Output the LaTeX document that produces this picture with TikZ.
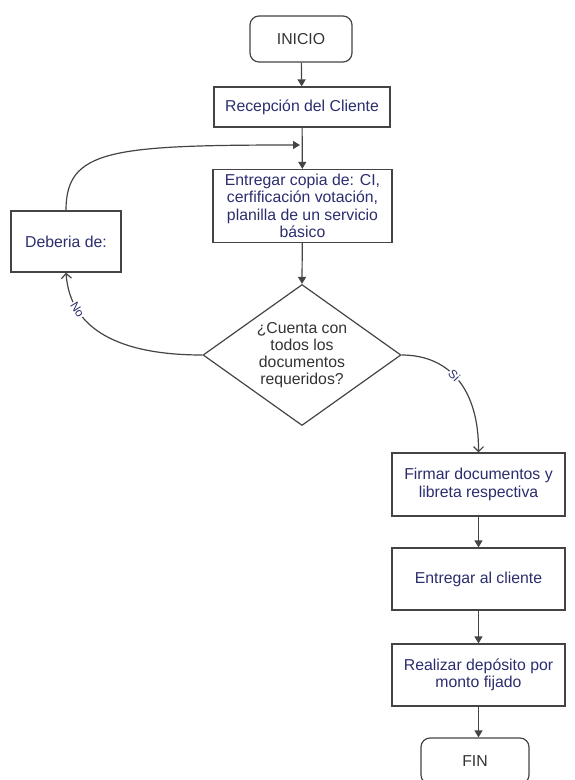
\documentclass[tikz,border=0pt]{standalone}
\usepackage{fontspec}
\setmainfont{Liberation Sans}
\usetikzlibrary{arrows.meta,shapes.geometric}
\definecolor{navy}{HTML}{2B2D6E}
\definecolor{ln}{HTML}{444444}
\definecolor{tx}{HTML}{333333}
\begin{document}
\begin{tikzpicture}[x=1pt,y=-1pt,
  every node/.style={font=\fontsize{15.8}{17.5}\selectfont},
  proc/.style={draw=ln, line width=1.2pt, rectangle, minimum width=#1, align=center, text=navy, inner sep=0pt},
  term/.style={draw=ln, line width=1.2pt, rounded corners=9pt, align=center, text=tx, minimum width=#1, minimum height=46pt},
  arr/.style={draw=ln, line width=1.2pt, -{Triangle[length=7pt,width=8pt]}},
  barb/.style={draw=ln, line width=1.2pt, -{Straight Barb[length=5pt,width=10pt]}},
  lbl/.style={font=\fontsize{12}{13}\selectfont, text=navy, fill=white, inner sep=1pt, sloped}
]
\useasboundingbox (0,0) rectangle (574,780);
\node[term=102pt] (inicio) at (301,39) {INICIO};
\node[proc=176pt, minimum height=40pt] (recep) at (302,107) {Recepción del Cliente};
\node[proc=179pt, minimum height=73pt] (entregar) at (302.5,206) {Entregar copia de: CI,\\cerfificación votación,\\planilla de un servicio\\básico};
\node[proc=110pt, minimum height=61pt] (deberia) at (66,241.5) {Deberia de:};
\node[draw=ln, line width=1.2pt, diamond, minimum width=198pt, minimum height=141pt, inner sep=0pt,
  label={[align=center, text=tx, font=\fontsize{15.8}{16.8}\selectfont]center:¿Cuenta con\\todos los\\documentos\\requeridos?}] (dec) at (302,355) {};
\node[proc=173pt, minimum height=63pt] (firmar) at (478.5,484.5) {Firmar documentos y\\libreta respectiva};
\node[proc=173pt, minimum height=62pt] (cliente) at (478.5,579) {Entregar al cliente};
\node[proc=173pt, minimum height=62pt] (realizar) at (478.5,675) {Realizar depósito por\\monto fijado};
\node[term=108pt] (fin) at (475,761) {FIN};
\coordinate (loopend) at (300,145);

\draw[arr] (inicio) -- (recep);
\draw[arr] (recep) -- (entregar);
\draw[arr] (entregar) -- (dec.north);
\draw[arr] (deberia.north) .. controls (66,150) and (110,145) .. (loopend);
\draw[barb] (dec.west) .. controls (120,355) and (70,330) .. (deberia.south)
  node[lbl, pos=0.75] {No};
\draw[barb] (dec.east) .. controls (450,355) and (479,390) .. (firmar.north)
  node[lbl, pos=0.45] {Si};
\draw[arr] (firmar) -- (cliente);
\draw[arr] (cliente) -- (realizar);
\draw[arr] (realizar.south) -- (realizar.south |- fin.north);
\end{tikzpicture}
\end{document}
